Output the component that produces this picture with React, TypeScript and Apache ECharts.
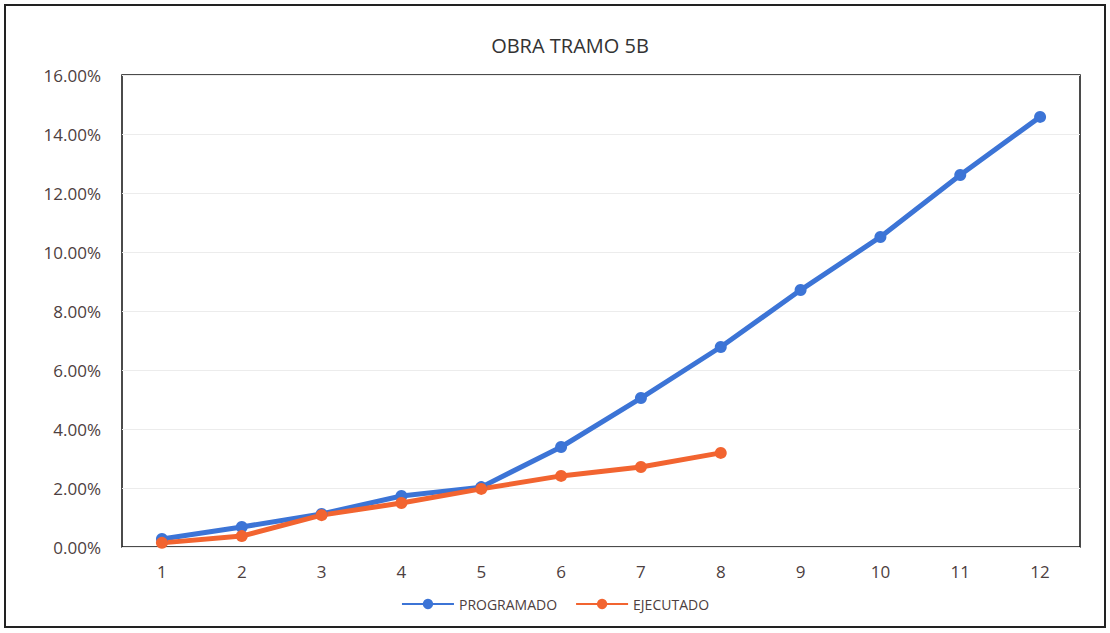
import React, { useEffect, useRef } from "react";
import * as echarts from "echarts";

const categories = ["1", "2", "3", "4", "5", "6", "7", "8", "9", "10", "11", "12"];
const programado = [0.27, 0.68, 1.12, 1.73, 2.03, 3.39, 5.05, 6.78, 8.71, 10.51, 12.61, 14.58];
const ejecutado = [0.14, 0.37, 1.08, 1.49, 1.97, 2.41, 2.71, 3.19];
const seriesNames = ["PROGRAMADO", "EJECUTADO"];
const title = "OBRA TRAMO 5B";

export default function App() {
  const ref = useRef<HTMLDivElement>(null);
  useEffect(() => {
    document.body.style.margin = "0";
    const chart = echarts.init(ref.current!, null, { renderer: "svg" });
    const font = "'Open Sans', 'Liberation Sans', sans-serif";
    const textColor = "#4d4040";
    chart.setOption({
      animation: false,
      backgroundColor: "#ffffff",
      title: {
        text: title,
        left: 565,
        textAlign: "center",
        top: 30,
        textStyle: { fontFamily: font, fontSize: 20, fontWeight: "normal", color: "#333333" },
      },
      legend: {
        data: seriesNames,
        left: "center",
        top: 592,
        itemWidth: 52,
        itemHeight: 13,
        itemGap: 18,
        textStyle: { fontFamily: font, fontSize: 14, color: textColor },
      },
      grid: {
        left: 122,
        right: 30,
        top: 75,
        bottom: 86,
        show: true,
        borderColor: "#111111",
        borderWidth: 1.5,
      },
      xAxis: {
        type: "category",
        data: categories,
        boundaryGap: true,
        axisLine: { show: false },
        axisTick: { show: false },
        axisLabel: { fontFamily: font, fontSize: 17, color: textColor, margin: 16 },
      },
      yAxis: {
        type: "value",
        min: 0,
        max: 16,
        interval: 2,
        axisLine: { show: false },
        axisTick: { show: false },
        axisLabel: {
          fontFamily: font,
          fontSize: 17,
          color: textColor,
          margin: 21,
          formatter: (v: number) => v.toFixed(2) + "%",
        },
        splitLine: { lineStyle: { color: "#ececec", width: 1 } },
      },
      series: [
        {
          name: seriesNames[0],
          type: "line",
          data: programado,
          symbol: "circle",
          symbolSize: 12,
          lineStyle: { width: 5, color: "#3c74d6" },
          itemStyle: { color: "#3c74d6" },
        },
        {
          name: seriesNames[1],
          type: "line",
          data: ejecutado,
          symbol: "circle",
          symbolSize: 12,
          lineStyle: { width: 5, color: "#f26430" },
          itemStyle: { color: "#f26430" },
        },
      ],
      graphic: [
        {
          type: "rect",
          shape: { x: 5, y: 5, width: 1100, height: 622 },
          style: { fill: "none", stroke: "#222222", lineWidth: 2 },
          silent: true,
        },
      ],
    });
    return () => chart.dispose();
  }, []);
  return <div ref={ref} style={{ width: 1110, height: 633 }} />;
}
